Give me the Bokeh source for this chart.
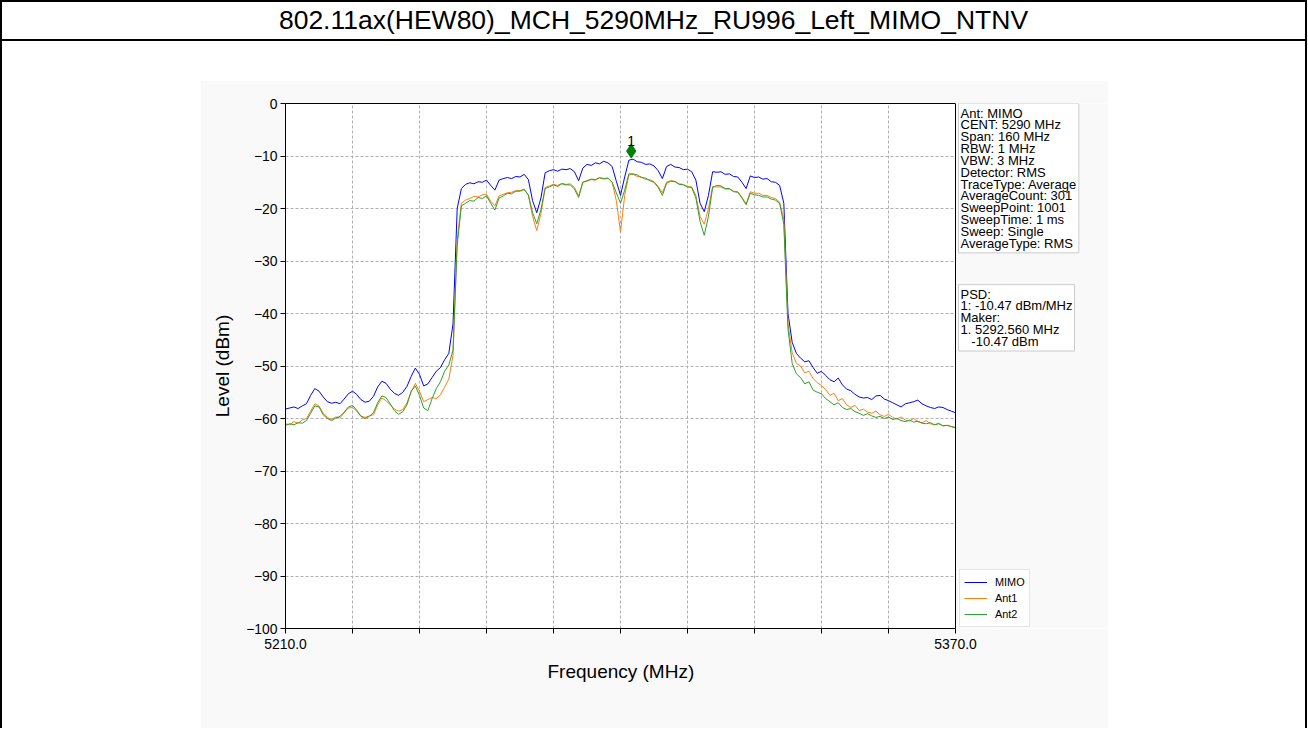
import numpy as np
from bokeh.plotting import figure
from bokeh.models import (FixedTicker, Legend, LegendItem, Label, Div, Spacer, Title,
                          ColumnDataSource, Range1d, LinearAxis, Span, BoxAnnotation)
from bokeh.layouts import column, row
from bokeh.embed import file_html
from bokeh.resources import INLINE
from bokeh.core.properties import value

# ---------------- data ----------------
title_text = "802.11ax(HEW80)_MCH_5290MHz_RU996_Left_MIMO_NTNV"
x_label = "Frequency (MHz)"
y_label = "Level (dBm)"
freq_start = 5210.0
freq_step = 1.0

mimo = [
    -58.2, -58.0, -57.8, -58.1, -57.6, -57.2, -55.6, -54.3, -54.8, -55.9,
    -56.8, -57.1, -56.9, -57.2, -56.3, -55.3, -54.8, -55.4, -56.4, -56.9,
    -56.7, -55.8, -54.0, -52.9, -53.3, -54.4, -55.2, -55.6, -55.0, -53.9,
    -52.0, -50.4, -51.6, -53.8, -53.4, -52.2, -51.0, -50.3, -48.8, -47.6,
    -42.0, -20.0, -16.2, -15.4, -15.1, -15.3, -14.9, -15.0, -14.6, -15.6,
    -16.5, -14.6, -14.3, -14.1, -14.3, -13.9, -14.0, -13.5, -14.5, -18.5,
    -20.8, -18.0, -13.2, -12.8, -12.6, -12.9, -12.5, -12.6, -12.4, -13.0,
    -14.7, -12.3, -11.6, -11.8, -11.3, -11.5, -11.0, -11.3, -12.0, -14.8,
    -17.5, -14.0, -10.8, -10.6, -11.1, -11.2, -11.6, -11.5, -11.9, -12.8,
    -14.3, -12.0, -11.6, -12.1, -12.2, -12.6, -12.5, -13.0, -14.6, -19.0,
    -20.6, -17.5, -13.0, -13.1, -13.0, -13.5, -13.4, -13.9, -14.0, -15.0,
    -16.2, -13.8, -14.1, -14.0, -14.4, -14.3, -14.9, -15.0, -15.6, -19.0,
    -40.0, -45.5, -47.6, -48.5, -49.2, -49.0, -50.3, -51.4, -51.0, -51.8,
    -52.6, -53.0, -52.3, -53.6, -54.4, -54.7, -55.4, -55.9, -56.1, -56.0,
    -56.4, -55.7, -55.6, -56.3, -56.6, -57.0, -57.4, -57.8, -57.2, -57.0,
    -56.8, -56.5, -57.2, -57.6, -57.9, -58.1, -57.8, -57.9, -58.3, -58.6,
    -58.9,
]

ant1 = [
    -61.0, -61.2, -60.6, -60.9, -60.3, -60.0, -58.6, -57.2, -57.6, -59.0,
    -59.8, -60.2, -59.7, -59.9, -58.9, -58.0, -57.9, -58.6, -59.5, -59.8,
    -59.5, -59.3, -57.4, -56.1, -56.6, -57.4, -58.2, -58.6, -58.3, -57.0,
    -55.0, -53.3, -54.8, -56.8, -56.4, -56.0, -56.2, -55.5, -54.0, -52.5,
    -48.0, -26.0, -19.0, -18.4, -18.1, -17.7, -17.8, -17.4, -17.3, -18.6,
    -19.5, -17.6, -17.3, -17.0, -16.9, -16.6, -16.6, -16.3, -17.5, -21.5,
    -24.2, -21.0, -16.0, -15.7, -15.4, -15.6, -15.2, -15.4, -15.3, -16.0,
    -17.6, -15.0, -14.8, -14.5, -14.6, -14.2, -14.4, -14.2, -15.0, -18.5,
    -24.5, -17.5, -13.6, -13.5, -13.9, -14.0, -14.5, -14.5, -14.9, -15.8,
    -17.0, -15.0, -14.7, -14.8, -15.3, -15.4, -15.8, -15.9, -17.5, -21.5,
    -23.0, -20.0, -15.8, -15.9, -15.9, -16.3, -16.3, -16.7, -16.8, -17.9,
    -19.1, -16.8, -17.1, -17.1, -17.5, -17.5, -17.9, -18.1, -18.8, -22.0,
    -42.0, -47.5, -49.5, -50.0, -51.3, -51.0, -52.4, -53.2, -53.7, -54.5,
    -55.6, -55.2, -56.6, -56.2, -57.4, -57.9, -57.5, -58.5, -58.2, -58.8,
    -59.0, -58.6, -59.3, -59.6, -59.2, -59.8, -60.1, -59.7, -60.3, -60.5,
    -60.0, -60.6, -60.8, -60.4, -61.0, -61.2, -60.9, -61.4, -61.3, -61.6,
    -61.8,
]

ant2 = [
    -61.3, -61.0, -61.2, -60.8, -60.9, -60.4, -59.0, -57.6, -57.8, -59.3,
    -60.0, -60.4, -59.9, -59.6, -58.8, -57.8, -57.5, -58.4, -59.6, -60.0,
    -59.6, -58.9, -57.0, -55.7, -56.0, -57.2, -58.5, -59.2, -58.7, -57.4,
    -54.8, -53.8, -55.6, -58.0, -58.5, -56.2, -54.3, -53.0, -51.0, -49.8,
    -47.0, -27.0, -19.5, -19.0, -18.5, -18.6, -17.9, -18.1, -17.6, -19.0,
    -20.3, -18.0, -17.6, -17.1, -17.2, -16.7, -16.7, -16.4, -17.4, -20.8,
    -22.9, -20.2, -16.2, -15.9, -15.5, -15.8, -15.3, -15.5, -15.5, -16.3,
    -17.9, -15.0, -14.7, -14.4, -14.5, -14.1, -14.3, -14.2, -15.0, -17.0,
    -19.0, -16.5, -13.4, -13.4, -13.6, -14.1, -14.2, -14.7, -15.0, -16.0,
    -17.5, -15.2, -14.8, -14.9, -15.4, -15.5, -15.9, -16.0, -18.0, -22.5,
    -25.1, -21.5, -16.0, -15.6, -15.7, -16.2, -16.2, -16.8, -16.9, -18.0,
    -19.3, -17.1, -17.4, -17.5, -17.8, -17.8, -18.2, -18.4, -19.0, -23.0,
    -43.0, -49.5, -51.5, -52.2, -53.4, -53.0, -54.6, -55.0, -55.3, -56.2,
    -56.8, -57.4, -57.0, -57.9, -58.3, -58.1, -58.7, -59.0, -59.4, -59.1,
    -59.5, -59.8, -59.6, -60.0, -59.7, -60.2, -60.0, -60.4, -60.6, -60.3,
    -60.7, -60.5, -60.9, -61.0, -60.8, -61.2, -61.0, -61.4, -61.3, -61.5,
    -61.7,
]

series_names = ["MIMO", "Ant1", "Ant2"]
series_colors = ["#0000ff", "#ff7f0e", "#2ca02c"]

x_ticks = [5210, 5226, 5242, 5258, 5274, 5290, 5306, 5322, 5338, 5354, 5370]
x_tick_labels = ["5210.0", "", "", "", "", "", "", "", "", "", "5370.0"]
y_ticks = [0, -10, -20, -30, -40, -50, -60, -70, -80, -90, -100]
y_tick_labels = ["0", "\u221210", "\u221220", "\u221230", "\u221240", "\u221250",
                 "\u221260", "\u221270", "\u221280", "\u221290", "\u2212100"]

marker_freq = 5292.560
marker_level = -10.47
marker_name = "1"

info_lines = ["Ant: MIMO", "CENT: 5290 MHz", "Span: 160 MHz", "RBW: 1 MHz",
              "VBW: 3 MHz", "Detector: RMS", "TraceType: Average",
              "AverageCount: 301", "SweepPoint: 1001", "SweepTime: 1 ms",
              "Sweep: Single", "AverageType: RMS"]
psd_lines = ["PSD:", "1: -10.47 dBm/MHz", "Maker:", "1. 5292.560 MHz",
             "\u00a0\u00a0\u00a0-10.47 dBm"]

# ---------------- figure ----------------
FONT = "Liberation Sans"
GRAY = "#f9f9f9"
freqs = freq_start + freq_step * np.arange(len(mimo))

FIG_W, FIG_H = 908, 648
LEFT, TOP, AX_W, AX_H = 85, 23, 670, 525          # axes box geometry (px)
x0, x1 = x_ticks[0], x_ticks[-1]
px_per_mhz = AX_W / (x1 - x0)
frame_w = FIG_W - LEFT
x_end = x0 + frame_w / px_per_mhz                  # room for side notes in the frame

p = figure(width=FIG_W, height=FIG_H, output_backend="svg", toolbar_location=None,
           x_range=Range1d(x0, x_end), y_range=Range1d(y_ticks[-1], y_ticks[0]),
           min_border_left=LEFT, min_border_right=0,
           min_border_top=TOP, min_border_bottom=FIG_H - TOP - AX_H,
           border_fill_color=GRAY, background_fill_color="white")
p.outline_line_color = None

# grey area right of the axes box
p.add_layout(BoxAnnotation(left=x1, fill_color=GRAY, fill_alpha=1.0, line_color=None,
                           level="underlay"))

for ax, ticks, labels in ((p.xaxis[0], x_ticks, x_tick_labels),
                          (p.yaxis[0], y_ticks, y_tick_labels)):
    ax.ticker = FixedTicker(ticks=ticks)
    ax.major_label_overrides = {t: l for t, l in zip(ticks, labels)}
    ax.axis_line_color = "black"
    ax.major_tick_line_color = "black"
    ax.major_tick_out = 5
    ax.major_tick_in = 0
    ax.minor_tick_line_color = None
    ax.major_label_text_font = FONT
    ax.major_label_text_font_size = "13.9px"
    ax.major_label_text_color = "black"
    ax.axis_label_text_font = FONT
    ax.axis_label_text_font_size = "19px"
    ax.axis_label_text_font_style = "normal"
    ax.axis_label_text_color = "black"
p.xaxis[0].bounds = (x0, x1)
p.xaxis.major_label_standoff = 5
p.yaxis.axis_label = y_label
p.yaxis.major_label_standoff = 3
p.yaxis.axis_label_standoff = 10

# x-axis title, centred under the axes box
XLAB_W = 146
p.add_layout(Title(text=x_label, align="left", offset=(AX_W - XLAB_W) / 2,
                   vertical_align="top", standoff=18, text_font=FONT,
                   text_font_size="19px", text_font_style="normal",
                   text_color="black"), "below")

# top spine
top_ax = LinearAxis(bounds=(x0, x1), ticker=FixedTicker(ticks=[]),
                    major_tick_line_color=None, minor_tick_line_color=None,
                    major_label_text_font_size="0px", axis_line_color="black")
p.add_layout(top_ax, "above")

p.xgrid.ticker = FixedTicker(ticks=x_ticks)
p.ygrid.ticker = FixedTicker(ticks=y_ticks)
p.ygrid.bounds = (x0, x1)
for g in (p.xgrid[0], p.ygrid[0]):
    g.grid_line_color = "#b0b0b0"
    g.grid_line_dash = "3 2"
    g.grid_line_width = 1

renderers = []
for name, vals, col in zip(series_names, (mimo, ant1, ant2), series_colors):
    src = ColumnDataSource(dict(x=freqs, y=vals))
    r = p.line("x", "y", source=src, line_color=col, line_width=1)
    renderers.append(r)

# right spine
p.add_layout(Span(location=x1, dimension="height", line_color="black", line_width=1))

# marker
mk_src = ColumnDataSource(dict(x=[marker_freq], y=[marker_level + 1.4], t=[marker_name]))
p.scatter("x", "y", source=mk_src, marker="diamond", size=14,
          fill_color="#008000", line_color="#008000")
p.text("x", "y", text="t", source=mk_src, text_align="center",
       text_baseline="alphabetic", y_offset=-10, text_font=value(FONT),
       text_font_size="14px", text_color="black")

# legend (right of the axes box, bottom)
legend = Legend(items=[LegendItem(label=n, renderers=[r]) for n, r in zip(series_names, renderers)],
                location=(AX_W + 4, 1), margin=0, padding=4, spacing=0,
                glyph_width=23, glyph_height=16, label_height=16,
                label_standoff=8, label_text_font=FONT,
                label_text_font_size="10.9px", label_text_color="black",
                border_line_color="#cccccc", border_line_width=1,
                background_fill_color="white", background_fill_alpha=1.0)
p.add_layout(legend)

# info boxes
for lines, ytop in ((info_lines, 0.0), (psd_lines, -34.5)):
    p.add_layout(Label(x=x1, y=ytop, x_offset=3, text="\n".join(lines),
                       text_align="left", text_baseline="top",
                       text_font=FONT, text_font_size="13px",
                       text_line_height=0.79, text_color="black",
                       background_fill_color="white", border_line_color="#cccccc",
                       border_line_width=1, padding=2))

# ---------------- page frame ----------------
header = Div(text=('<div style="box-sizing:border-box;width:1307px;height:41px;'
                   'border:2px solid #000;text-align:center;'
                   'font-family:\'Liberation Sans\',Arial,sans-serif;font-size:26.5px;'
                   'line-height:37px;color:#000;white-space:nowrap">%s</div>' % title_text),
             width=1307, height=41, margin=0)

BODY_H = 687

def vline():
    return Div(text='<div style="width:2px;height:%dpx;background:#000"></div>' % BODY_H,
               width=2, height=BODY_H, margin=0)

body = row(vline(), Spacer(width=198, height=BODY_H, margin=0),
           column(Spacer(width=FIG_W, height=80 - 41, margin=0), p, spacing=0),
           Spacer(width=1307 - 4 - 198 - FIG_W, height=BODY_H, margin=0), vline(), spacing=0)
page = column(header, body, spacing=0)

open("out.html", "w").write(file_html(page, INLINE))
